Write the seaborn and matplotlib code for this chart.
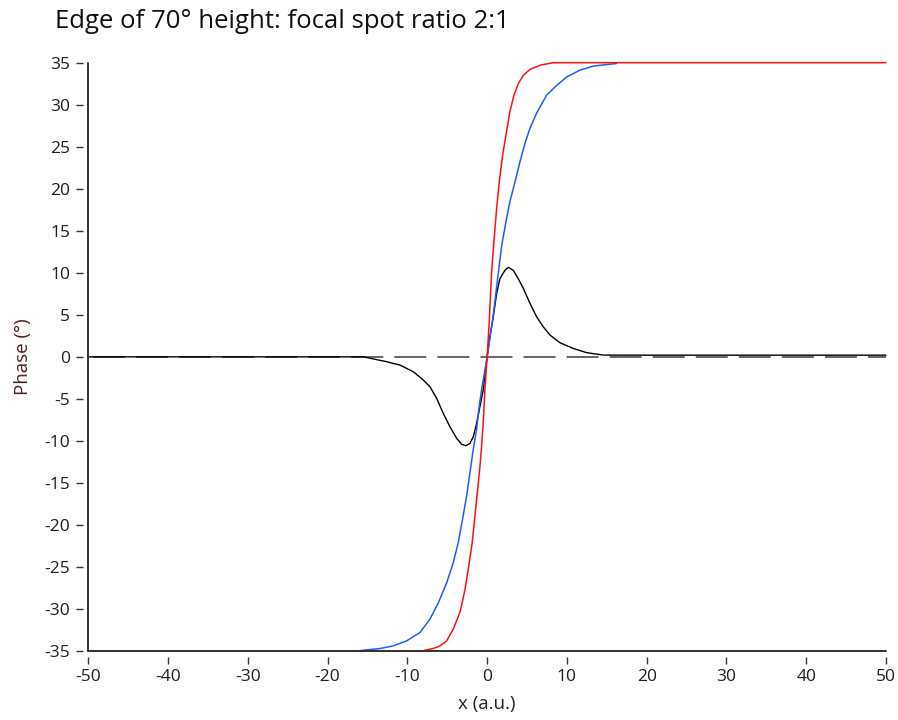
import matplotlib
matplotlib.use("Agg")
import matplotlib.pyplot as plt
import seaborn as sns
import pandas as pd

# ---- data ----
red_x = [-50, -8.2, -6.76, -5.92, -5.08, -4.25, -3.41, -2.78, -2.37, -1.87, -1.53, -1.19, -0.9, -0.69,
         -0.49, -0.28, 0, 0.26, 0.56, 0.85, 1.19, 1.52, 1.94, 2.36, 2.86, 3.36, 3.9, 4.53, 5.37,
         6.62, 8.29, 50]
red_y = [-35, -35.0, -34.7, -34.4, -33.8, -32.4, -30.4, -27.7, -25.3, -22.1, -18.9, -15.8, -13.0, -10.6,
         -7.84, -3.87, 0, 4.18, 10.1, 13.7, 17.7, 20.8, 24.0, 26.4, 29.2, 31.15, 32.5, 33.5, 34.2,
         34.7, 35.0, 35]

blue_x = [-16.4, -13.4, -11.8, -10.1, -8.42, -7.17, -6.13, -5.08, -4.25, -3.62, -3.08, -2.58, -2.16,
          -1.74, -1.32, -0.99, -0.69, 0, 0.77, 1.39, 1.82, 2.36, 2.86, 3.49, 4.11, 4.74, 5.37,
          6.2, 7.46, 8.71, 9.97, 11.6, 13.3, 16.2]
blue_y = [-35.0, -34.7, -34.4, -33.8, -32.8, -31.2, -29.3, -26.9, -24.5, -22.1, -19.3, -16.6, -13.8,
          -11.0, -8.6, -5.85, -3.87, 0, 5.0, 9.9, 13.2, 16.1, 18.5, 20.8, 23.2, 25.4, 27.2,
          29.0, 31.15, 32.3, 33.3, 34.1, 34.6, 34.9]

black_x = [-50, -15.5, -12.6, -10.93, -9.26, -8.0, -7.17, -6.33, -5.5, -4.66, -3.82, -3.2, -2.66,
           -2.16, -1.74, -1.32, -0.9, -0.49, 0, 0.35, 0.77, 1.19, 1.6, 2.23, 2.65, 3.27, 3.9,
           4.53, 5.37, 6.2, 7.03, 7.87, 9.13, 10.8, 12.47, 14.55, 20, 50]
black_y = [0, 0, -0.58, -0.98, -1.77, -2.76, -3.56, -4.94, -6.73, -8.32, -9.7, -10.4, -10.58,
           -10.3, -9.5, -7.9, -5.9, -3.95, 0, 2.4, 4.77, 7.55, 9.3, 10.3, 10.65, 10.3, 9.3,
           8.15, 6.36, 4.77, 3.58, 2.6, 1.68, 1.0, 0.5, 0.21, 0.2, 0.2]

x_ticks = [-50, -40, -30, -20, -10, 0, 10, 20, 30, 40, 50]
y_ticks = [35, 30, 25, 20, 15, 10, 5, 0, -5, -10, -15, -20, -25, -30, -35]

title = "Edge of 70° height: focal spot ratio 2:1"
x_label = "x (a.u.)"
y_label = "Phase (°)"

# ---- style ----
sns.set_style("white")
plt.rcParams['font.family'] = ['Open Sans', 'DejaVu Sans']

DPI = 100
fig = plt.figure(figsize=(8.98, 7.20), dpi=DPI)
ax = fig.add_axes([88.3 / 898, (720 - 651) / 720, (886 - 88.3) / 898, (651 - 62.7) / 720])

red_df = pd.DataFrame({"x": red_x, "y": red_y})
blue_df = pd.DataFrame({"x": blue_x, "y": blue_y})
black_df = pd.DataFrame({"x": black_x, "y": black_y})

# dashed zero line
lw_d = 1.1
ax.axhline(0, color="#3c3c3c", lw=lw_d, zorder=1,
           linestyle=(27.4 / lw_d, (23.0 / lw_d, 8.0 / lw_d)))

sns.lineplot(data=black_df, x="x", y="y", ax=ax, color="black", lw=1.0,
             estimator=None, sort=False, zorder=2, clip_on=False)
sns.lineplot(data=blue_df, x="x", y="y", ax=ax, color="#1f5cff", lw=1.1,
             estimator=None, sort=False, zorder=2, clip_on=False)
sns.lineplot(data=red_df, x="x", y="y", ax=ax, color="#ff1010", lw=1.1,
             estimator=None, sort=False, zorder=2, clip_on=False)

ax.set_xlim(-50, 50)
ax.set_ylim(-35, 35)
ax.set_xticks(x_ticks)
ax.set_yticks(y_ticks)
ax.set_xticklabels([str(v) for v in x_ticks])
ax.set_yticklabels([str(v) for v in y_ticks])

# axis lines drawn at the data edges, ticks detached from them
for s in ["top", "right"]:
    ax.spines[s].set_visible(False)
for s in ["left", "bottom"]:
    ax.spines[s].set_position(("outward", 4.0))
    ax.spines[s].set_visible(False)
ax.axvline(-50, color="#333333", lw=1.4, zorder=4, clip_on=False)
ax.axhline(-35, color="#333333", lw=1.4, zorder=4, clip_on=False)

ax.tick_params(axis="both", which="major", direction="out", length=5.0, width=1.0,
               color="#333333", labelsize=12.5, labelcolor="#1e1e28")
ax.tick_params(axis="x", pad=4)
ax.tick_params(axis="y", pad=4)
ax.xaxis.set_ticks_position("bottom")
ax.yaxis.set_ticks_position("left")

ax.set_xlabel(x_label, fontsize=13.5, color="#2a1e1e", labelpad=7)
ax.set_ylabel(y_label, fontsize=13.5, color="#4a2020", labelpad=9)
ax.grid(False)

fig.text(55 / 898, 1 - 28 / 720, title, fontsize=18.5, color="#111111",
         ha="left", va="baseline")

fig.savefig("out.png", dpi=DPI, facecolor="white")
